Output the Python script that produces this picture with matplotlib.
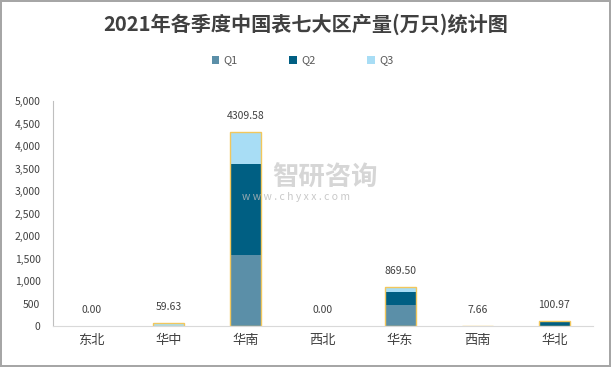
import matplotlib.pyplot as plt
import numpy as np

plt.rcParams['font.family'] = ['Noto Sans CJK SC', 'DejaVu Sans']

# --- Données ---
regions = ['东北', '华中', '华南', '西北', '华东', '西南', '华北']
q1 = [0, 0, 1575, 0, 468, 0, 5]
q2 = [0, 0, 2034, 0, 290, 0, 90]
q3 = [0, 59.63, 700.58, 0, 111.5, 7.66, 5.97]
totals = [0.00, 59.63, 4309.58, 0.00, 869.50, 7.66, 100.97]
yticks = [0, 500, 1000, 1500, 2000, 2500, 3000, 3500, 4000, 4500, 5000]

c_q1 = '#5b8fa8'
c_q2 = '#005f83'
c_q3 = '#a8ddf5'
c_edge = '#f2c75c'
txt = '#404040'

fig = plt.figure(figsize=(6.11, 3.67), dpi=100)
fig.patch.set_edgecolor('#a6a6a6')
fig.patch.set_linewidth(1.5)
ax = fig.add_axes([0.0867, 0.1117, 0.8838, 0.6131])

x = np.arange(len(regions))
w = 0.40
b1 = np.array(q1)
b2 = b1 + np.array(q2)
ax.bar(x, q1, w, color=c_q1, label='Q1')
ax.bar(x, q2, w, bottom=b1, color=c_q2, label='Q2')
ax.bar(x, q3, w, bottom=b2, color=c_q3, label='Q3')
# contour doré autour de la pile (total), sauf pour les valeurs nulles
nz = [i for i, t in enumerate(totals) if t > 0]
ax.bar(x[nz], [totals[i] for i in nz], w, facecolor='none', edgecolor=c_edge,
       linewidth=1.0)

for xi, t in zip(x, totals):
    ax.annotate(f'{t:.2f}', (xi, t), xytext=(0, 8), textcoords='offset points',
                ha='center', va='bottom', fontsize=7.5, color=txt)

ax.set_xlim(-0.5, len(regions) - 0.5)
ax.set_ylim(0, 5000)
ax.set_yticks(yticks)
ax.set_yticklabels([f'{v:,}' for v in yticks], fontsize=7.5, color=txt)
ax.set_xticks(x)
ax.set_xticklabels(regions, fontsize=9.5, color=txt)
ax.tick_params(axis='both', length=0)
ax.tick_params(axis='y', pad=9)
ax.tick_params(axis='x', pad=6)
for s in ['top', 'right']:
    ax.spines[s].set_visible(False)
ax.spines['left'].set_color('#bfbfbf')
ax.spines['bottom'].set_color('#d9d9d9')
ax.spines['left'].set_linewidth(0.8)
ax.spines['bottom'].set_linewidth(0.8)

# filigrane
fig.text(0.532, 0.515, '智研咨询', fontsize=19, color='#cccccc', ha='center',
         va='center', fontweight='bold', alpha=0.8)
fig.text(0.485, 0.462, 'w w w . c h y x x . c o m', fontsize=7.5, color='#bbbbbb',
         ha='center', va='center', alpha=0.8)

fig.text(0.5, 0.933, '2021年各季度中国表七大区产量(万只)统计图', ha='center',
         va='center', fontsize=14.5, fontweight='bold', color=txt)

fig.legend(loc='center', bbox_to_anchor=(0.495, 0.835), ncol=3, frameon=False,
           fontsize=8, handlelength=0.7, handleheight=0.7, columnspacing=4.6,
           handletextpad=0.4, labelcolor='#595959')

fig.savefig('out.png', dpi=100)
